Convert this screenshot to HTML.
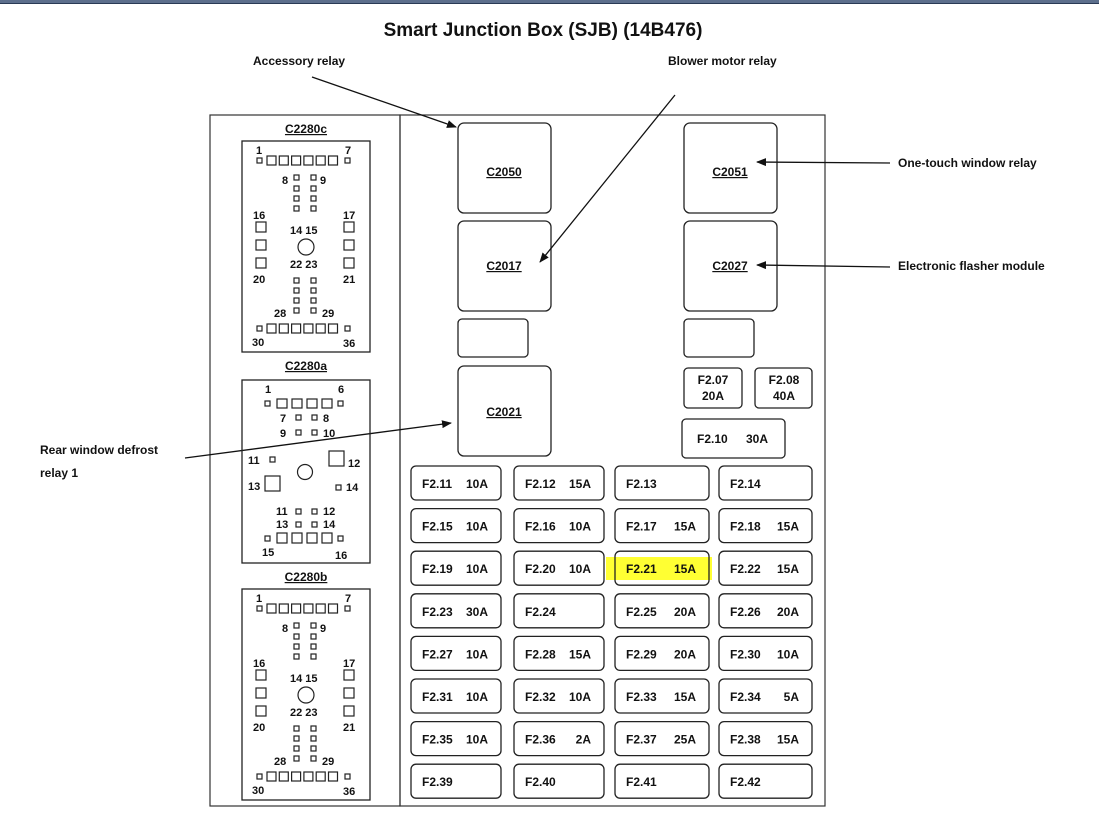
<!DOCTYPE html>
<html><head><meta charset="utf-8"><style>
html,body{margin:0;padding:0;background:#fff;}
svg{display:block;font-family:"Liberation Sans",Arial,sans-serif;}
.t{font-size:12px;font-weight:bold;fill:#111;}
.s{font-size:11px;font-weight:bold;fill:#111;}
.b{fill:#fff;stroke:#222;stroke-width:1.3;}
.p{fill:#fff;stroke:#222;stroke-width:1.2;}
</style></head><body>
<svg width="1099" height="834" viewBox="0 0 1099 834" xmlns="http://www.w3.org/2000/svg">
<defs><marker id="ar" markerWidth="10" markerHeight="8" refX="9" refY="4" orient="auto" markerUnits="userSpaceOnUse"><path d="M0,0 L10,4 L0,8 Z" fill="#111"/></marker></defs>
<rect x="0" y="0" width="1099" height="3" fill="#5d6f8c"/><rect x="0" y="3" width="1099" height="1" fill="#2a3a55"/>
<text x="543" y="36" text-anchor="middle" style="font-size:19px;font-weight:bold" fill="#111">Smart Junction Box (SJB) (14B476)</text>
<rect x="210" y="115" width="190" height="691" fill="none" stroke="#333" stroke-width="1.2"/>
<rect x="400" y="115" width="425" height="691" fill="none" stroke="#333" stroke-width="1.2"/>
<!-- relays -->
<g>
<rect class="b" x="458" y="123" width="93" height="90" rx="6"/><text class="t" x="504" y="176" text-anchor="middle" text-decoration="underline">C2050</text>
<rect class="b" x="458" y="221" width="93" height="90" rx="6"/><text class="t" x="504" y="270" text-anchor="middle" text-decoration="underline">C2017</text>
<rect class="b" x="458" y="319" width="70" height="38" rx="4"/>
<rect class="b" x="458" y="366" width="93" height="90" rx="6"/><text class="t" x="504" y="416" text-anchor="middle" text-decoration="underline">C2021</text>
<rect class="b" x="684" y="123" width="93" height="90" rx="6"/><text class="t" x="730" y="176" text-anchor="middle" text-decoration="underline">C2051</text>
<rect class="b" x="684" y="221" width="93" height="90" rx="6"/><text class="t" x="730" y="270" text-anchor="middle" text-decoration="underline">C2027</text>
<rect class="b" x="684" y="319" width="70" height="38" rx="4"/>
<rect class="b" x="684" y="368" width="58" height="40" rx="4"/><text class="t" x="713" y="384" text-anchor="middle">F2.07</text><text class="t" x="713" y="400" text-anchor="middle">20A</text>
<rect class="b" x="755" y="368" width="57" height="40" rx="4"/><text class="t" x="784" y="384" text-anchor="middle">F2.08</text><text class="t" x="784" y="400" text-anchor="middle">40A</text>
<rect class="b" x="682" y="419" width="103" height="39" rx="4"/><text class="t" x="697" y="443">F2.10</text><text class="t" x="746" y="443">30A</text>
</g>
<!-- highlight -->
<rect x="606" y="557" width="106" height="23" fill="#ffff33"/>
<g id="fuses"></g>
<!-- callouts -->
<text class="t" x="253" y="65">Accessory relay</text>
<line x1="312" y1="77" x2="456" y2="127" stroke="#111" stroke-width="1.3" marker-end="url(#ar)"/>
<text class="t" x="668" y="65">Blower motor relay</text>
<line x1="675" y1="95" x2="540" y2="262" stroke="#111" stroke-width="1.3" marker-end="url(#ar)"/>
<text class="t" x="898" y="167">One-touch window relay</text>
<line x1="890" y1="163" x2="757" y2="162" stroke="#111" stroke-width="1.3" marker-end="url(#ar)"/>
<text class="t" x="898" y="270">Electronic flasher module</text>
<line x1="890" y1="267" x2="757" y2="265" stroke="#111" stroke-width="1.3" marker-end="url(#ar)"/>
<text class="t" x="40" y="454">Rear window defrost</text>
<text class="t" x="40" y="477">relay 1</text>
<line x1="185" y1="458" x2="451" y2="423" stroke="#111" stroke-width="1.3" marker-end="url(#ar)"/>
<!-- C2280c -->
<g id="cc"></g>
<g id="cb"></g>
<!-- C2280a -->
<text class="t" x="306" y="370" text-anchor="middle" text-decoration="underline">C2280a</text>
<rect x="242" y="380" width="128" height="183" fill="none" stroke="#222" stroke-width="1.3"/>
<g class="s">
<text x="265" y="393">1</text><text x="338" y="393">6</text>
<text x="280" y="422">7</text><text x="323" y="422">8</text>
<text x="280" y="437">9</text><text x="323" y="437">10</text>
<text x="248" y="464">11</text><text x="348" y="467">12</text>
<text x="248" y="490">13</text><text x="346" y="491">14</text>
<text x="276" y="515">11</text><text x="323" y="515">12</text>
<text x="276" y="528">13</text><text x="323" y="528">14</text>
<text x="262" y="556">15</text><text x="335" y="559">16</text>
</g>
<g>
<rect class="p" x="265" y="401" width="5" height="5"/><rect class="p" x="277" y="399" width="10" height="9"/><rect class="p" x="292" y="399" width="10" height="9"/><rect class="p" x="307" y="399" width="10" height="9"/><rect class="p" x="322" y="399" width="10" height="9"/><rect class="p" x="338" y="401" width="5" height="5"/>
<rect class="p" x="296" y="415" width="5" height="5"/><rect class="p" x="312" y="415" width="5" height="5"/>
<rect class="p" x="296" y="430" width="5" height="5"/><rect class="p" x="312" y="430" width="5" height="5"/>
<rect class="p" x="270" y="457" width="5" height="5"/>
<rect class="p" x="329" y="451" width="15" height="15"/>
<circle class="p" cx="305" cy="472" r="7.5"/>
<rect class="p" x="265" y="476" width="15" height="15"/>
<rect class="p" x="336" y="485" width="5" height="5"/>
<rect class="p" x="296" y="509" width="5" height="5"/><rect class="p" x="312" y="509" width="5" height="5"/>
<rect class="p" x="296" y="522" width="5" height="5"/><rect class="p" x="312" y="522" width="5" height="5"/>
<rect class="p" x="265" y="536" width="5" height="5"/><rect class="p" x="277" y="533" width="10" height="10"/><rect class="p" x="292" y="533" width="10" height="10"/><rect class="p" x="307" y="533" width="10" height="10"/><rect class="p" x="322" y="533" width="10" height="10"/><rect class="p" x="338" y="536" width="5" height="5"/>
</g>
</svg>
<script>
const NS="http://www.w3.org/2000/svg";
function el(p,tag,a,txt){const e=document.createElementNS(NS,tag);for(const k in a)e.setAttribute(k,a[k]);if(txt!==undefined)e.textContent=txt;p.appendChild(e);return e;}
const fg=document.getElementById('fuses');
const cols=[[411,90],[514,90],[615,94],[719,93]];
const data=[["F2.11","10A","F2.12","15A","F2.13","","F2.14",""],
["F2.15","10A","F2.16","10A","F2.17","15A","F2.18","15A"],
["F2.19","10A","F2.20","10A","F2.21","15A","F2.22","15A"],
["F2.23","30A","F2.24","","F2.25","20A","F2.26","20A"],
["F2.27","10A","F2.28","15A","F2.29","20A","F2.30","10A"],
["F2.31","10A","F2.32","10A","F2.33","15A","F2.34","5A"],
["F2.35","10A","F2.36","2A","F2.37","25A","F2.38","15A"],
["F2.39","","F2.40","","F2.41","","F2.42",""]];
data.forEach((r,i)=>{const y=466+i*42.6;cols.forEach((c,j)=>{
 const hl=(i==2&&j==2);
 el(fg,'rect',{x:c[0],y:y,width:c[1],height:34,rx:5,fill:hl?'none':'#fff',stroke:'#222','stroke-width':1.3});
 el(fg,'text',{x:c[0]+11,y:y+22,class:'t'},r[j*2]);
 if(r[j*2+1])el(fg,'text',{x:c[0]+c[1]-13,y:y+22,class:'t','text-anchor':'end'},r[j*2+1]);
});});
function conn(g,dy,name){
 el(g,'text',{x:306,y:133+dy,class:'t','text-anchor':'middle','text-decoration':'underline'},name);
 el(g,'rect',{x:242,y:141+dy,width:128,height:211,fill:'none',stroke:'#222','stroke-width':1.3});
 const L=[["1",256,154],["7",345,154],["8",282,184],["9",320,184],["16",253,219],["17",343,219],["14 15",290,234],["22 23",290,268],["20",253,283],["21",343,283],["28",274,317],["29",322,317],["30",252,346],["36",343,347]];
 L.forEach(l=>el(g,'text',{x:l[1],y:l[2]+dy,class:'s'},l[0]));
 const p=(x,y,w,h)=>el(g,'rect',{x:x,y:y+dy,width:w,height:h,class:'p'});
 [[157,'top'],[325,'bot']].forEach(([y])=>{p(257,y+1,5,5);for(let k=0;k<6;k++)p(267+k*12.3,y-1,9,9);p(345,y+1,5,5);});
 [175,186,196,206,278,288,298,308].forEach(y=>{p(294,y,5,5);p(311,y,5,5);});
 [222,240,258].forEach(y=>{p(256,y,10,10);p(344,y,10,10);});
 el(g,'circle',{cx:306,cy:247+dy,r:8,class:'p'});
}
conn(document.getElementById('cc'),0,'C2280c');
conn(document.getElementById('cb'),448,'C2280b');
</script>
</body></html>
